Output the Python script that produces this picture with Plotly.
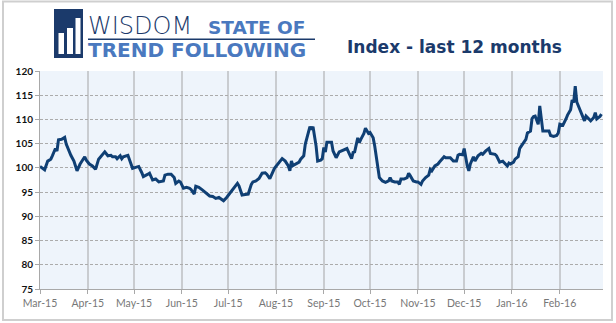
import plotly.graph_objects as go

# ---------------- data ----------------
dates = [
    "2015-03-01", "2015-03-04", "2015-03-06", "2015-03-08", "2015-03-09", "2015-03-11", "2015-03-12", "2015-03-13",
    "2015-03-15", "2015-03-17", "2015-03-18", "2015-03-20", "2015-03-21", "2015-03-23", "2015-03-25", "2015-03-27",
    "2015-03-30", "2015-03-31", "2015-04-02", "2015-04-04", "2015-04-06", "2015-04-08", "2015-04-10", "2015-04-12",
    "2015-04-14", "2015-04-16", "2015-04-17", "2015-04-19", "2015-04-20", "2015-04-22", "2015-04-23", "2015-04-24",
    "2015-04-27", "2015-04-28", "2015-04-30", "2015-05-02", "2015-05-04", "2015-05-06", "2015-05-07", "2015-05-10",
    "2015-05-11", "2015-05-13", "2015-05-15", "2015-05-17", "2015-05-20", "2015-05-21", "2015-05-23", "2015-05-25",
    "2015-05-27", "2015-05-28", "2015-05-30", "2015-05-31", "2015-06-02", "2015-06-04", "2015-06-06", "2015-06-07",
    "2015-06-09", "2015-06-10", "2015-06-12", "2015-06-14", "2015-06-17", "2015-06-19", "2015-06-21", "2015-06-23",
    "2015-06-25", "2015-06-26", "2015-06-28", "2015-06-30", "2015-07-02", "2015-07-04", "2015-07-07", "2015-07-08",
    "2015-07-10", "2015-07-12", "2015-07-14", "2015-07-16", "2015-07-17", "2015-07-19", "2015-07-21", "2015-07-23",
    "2015-07-25", "2015-07-26", "2015-07-28", "2015-07-31", "2015-08-02", "2015-08-04", "2015-08-05", "2015-08-07",
    "2015-08-09", "2015-08-10", "2015-08-11", "2015-08-12", "2015-08-14", "2015-08-16", "2015-08-17", "2015-08-19",
    "2015-08-20", "2015-08-22", "2015-08-23", "2015-08-24", "2015-08-25", "2015-08-27", "2015-08-28", "2015-08-30",
    "2015-08-31", "2015-09-01", "2015-09-02", "2015-09-03", "2015-09-05", "2015-09-06", "2015-09-07", "2015-09-09",
    "2015-09-11", "2015-09-13", "2015-09-15", "2015-09-16", "2015-09-18", "2015-09-19", "2015-09-20", "2015-09-21",
    "2015-09-23", "2015-09-24", "2015-09-25", "2015-09-27", "2015-09-28", "2015-09-30", "2015-10-01", "2015-10-03",
    "2015-10-04", "2015-10-06", "2015-10-07", "2015-10-09", "2015-10-11", "2015-10-13", "2015-10-14", "2015-10-15",
    "2015-10-17", "2015-10-19", "2015-10-20", "2015-10-21", "2015-10-23", "2015-10-25", "2015-10-26", "2015-10-27",
    "2015-10-29", "2015-10-31", "2015-11-01", "2015-11-03", "2015-11-04", "2015-11-06", "2015-11-08", "2015-11-09",
    "2015-11-10", "2015-11-12", "2015-11-14", "2015-11-15", "2015-11-17", "2015-11-18", "2015-11-19", "2015-11-21",
    "2015-11-22", "2015-11-24", "2015-11-26", "2015-11-27", "2015-11-28", "2015-11-30", "2015-12-01", "2015-12-03",
    "2015-12-04", "2015-12-05", "2015-12-07", "2015-12-08", "2015-12-10", "2015-12-12", "2015-12-13", "2015-12-15",
    "2015-12-16", "2015-12-17", "2015-12-18", "2015-12-21", "2015-12-22", "2015-12-24", "2015-12-26", "2015-12-27",
    "2015-12-29", "2015-12-30", "2015-12-31", "2016-01-02", "2016-01-03", "2016-01-05", "2016-01-06", "2016-01-07",
    "2016-01-08", "2016-01-10", "2016-01-11", "2016-01-13", "2016-01-14", "2016-01-15", "2016-01-16", "2016-01-18",
    "2016-01-19", "2016-01-20", "2016-01-21", "2016-01-23", "2016-01-25", "2016-01-26", "2016-01-28", "2016-01-30",
    "2016-01-31", "2016-02-01", "2016-02-03", "2016-02-05", "2016-02-06", "2016-02-08", "2016-02-09", "2016-02-10",
    "2016-02-11", "2016-02-12", "2016-02-13", "2016-02-14", "2016-02-16", "2016-02-17", "2016-02-18", "2016-02-20",
    "2016-02-21", "2016-02-23", "2016-02-24", "2016-02-25", "2016-02-27", "2016-02-28",
]

index_values = [
    100.3, 99.6, 101.4, 101.8, 102.5, 104.0, 103.5, 105.8,
    105.9, 106.3, 104.9, 103.3, 102.6, 101.4, 99.4, 100.8,
    102.3, 101.6, 100.8, 100.4, 99.7, 101.8, 102.6, 103.3,
    102.5, 102.6, 102.3, 102.3, 101.9, 102.5, 101.9, 102.3,
    102.6, 101.8, 99.9, 100.1, 100.3, 99.0, 98.2, 98.7,
    98.9, 97.5, 97.7, 97.1, 97.3, 98.5, 98.7, 98.7,
    98.0, 96.8, 97.3, 97.1, 95.8, 96.0, 95.8, 95.5,
    94.6, 96.2, 96.0, 95.5, 94.8, 94.2, 94.1, 93.7,
    93.9, 93.6, 93.2, 93.9, 94.8, 95.5, 96.8, 96.3,
    94.4, 94.5, 94.6, 96.6, 97.1, 97.3, 97.8, 98.9,
    99.0, 98.7, 97.8, 99.9, 100.8, 101.6, 101.9, 101.4,
    100.4, 99.4, 101.4, 100.5, 100.8, 101.2, 101.8, 102.5,
    104.9, 107.1, 108.5, 107.9, 108.5, 104.5, 101.4, 101.6,
    101.9, 104.2, 103.3, 105.3, 105.3, 105.3, 103.5, 102.1,
    103.3, 103.6, 103.8, 104.0, 102.6, 101.9, 103.2, 103.3,
    106.2, 105.2, 105.9, 107.1, 108.2, 107.1, 107.3, 106.2,
    104.5, 100.1, 98.0, 97.3, 97.0, 97.3, 98.0, 97.3,
    97.1, 97.1, 96.6, 97.7, 97.7, 98.0, 98.9, 98.4,
    97.3, 97.1, 97.1, 96.6, 97.3, 98.0, 98.5, 99.7,
    99.4, 100.4, 100.8, 101.2, 101.9, 102.3, 102.1, 102.1,
    102.1, 101.4, 101.4, 102.6, 102.8, 102.7, 104.0, 100.4,
    99.4, 100.8, 102.3, 101.4, 102.5, 103.0, 102.8, 103.5,
    103.8, 104.0, 103.0, 102.8, 102.5, 101.2, 101.4, 101.0,
    100.4, 101.0, 100.8, 101.2, 101.8, 102.3, 104.0, 104.5,
    104.9, 105.9, 107.2, 107.6, 110.2, 110.6, 110.7, 109.0,
    112.8, 110.7, 107.6, 107.6, 107.6, 106.7, 106.5, 106.7,
    107.2, 109.0, 108.8, 110.1, 110.9, 112.0, 114.0, 113.5,
    116.9, 113.6, 112.8, 111.8, 110.6, 109.7, 110.7, 110.1,
    109.7, 110.4, 111.4, 110.1, 110.6, 111.1,
]

month_ticks = [
    "2015-03-01", "2015-04-01", "2015-05-01", "2015-06-01", "2015-07-01", "2015-08-01",
    "2015-09-01", "2015-10-01", "2015-11-01", "2015-12-01", "2016-01-01", "2016-02-01",
]
month_labels = [
    "Mar-15", "Apr-15", "May-15", "Jun-15", "Jul-15", "Aug-15",
    "Sep-15", "Oct-15", "Nov-15", "Dec-15", "Jan-16", "Feb-16",
]
y_ticks = [75, 80, 85, 90, 95, 100, 105, 110, 115, 120]

# ---------------- layout constants ----------------
W, H = 616, 323
ML, MR, MT, MB = 40, 13, 71, 34
PW, PH = W - ML - MR, H - MT - MB

NAVY = "#1B3A6B"
LINE = "#0F3F74"
BLUE = "#4A79BF"


def px(x):
    return (x - ML) / PW


def py(y):
    return (H - MB - y) / PH


fig = go.Figure()
fig.add_trace(go.Scatter(
    x=dates, y=index_values, mode="lines",
    line=dict(color=LINE, width=3), hoverinfo="x+y", showlegend=False,
))

shapes = []
# outer frame
shapes.append(dict(type="rect", xref="paper", yref="paper",
                   x0=px(3), x1=px(612), y0=py(320), y1=py(1.5),
                   line=dict(color="#CFCFCF", width=2), fillcolor="rgba(0,0,0,0)", layer="above"))
# logo square
shapes.append(dict(type="rect", xref="paper", yref="paper",
                   x0=px(54), x1=px(83), y0=py(58), y1=py(9),
                   line=dict(width=0), fillcolor=NAVY))
# logo white bars
for (bx0, bx1, top) in [(58.5, 64, 33), (67, 73, 28), (75.5, 80.5, 18)]:
    shapes.append(dict(type="rect", xref="paper", yref="paper",
                       x0=px(bx0), x1=px(bx1), y0=py(54), y1=py(top),
                       line=dict(width=0), fillcolor="white"))
# logo underline
shapes.append(dict(type="line", xref="paper", yref="paper",
                   x0=px(88), x1=px(315), y0=py(39.3), y1=py(39.3),
                   line=dict(color=NAVY, width=1.5)))

annotations = [
    dict(text="WISDOM", x=px(86), y=py(25.5), xref="paper", yref="paper",
         xanchor="left", yanchor="middle", showarrow=False,
         font=dict(family="DejaVu Sans", size=24, color=NAVY, weight=200)),
    dict(text="STATE OF", x=px(206), y=py(27.5), xref="paper", yref="paper",
         xanchor="left", yanchor="middle", showarrow=False,
         font=dict(family="DejaVu Sans", size=18.5, color=BLUE, weight="bold")),
    dict(text="TREND FOLLOWING", x=px(86), y=py(50.5), xref="paper", yref="paper",
         xanchor="left", yanchor="middle", showarrow=False,
         font=dict(family="DejaVu Sans", size=20, color=BLUE, weight="bold")),
    dict(text="Index - last 12 months", x=px(345), y=py(47.5), xref="paper", yref="paper",
         xanchor="left", yanchor="middle", showarrow=False,
         font=dict(family="DejaVu Sans", size=17, color=NAVY, weight="bold")),
]

fig.update_layout(
    width=W, height=H,
    margin=dict(l=ML, r=MR, t=MT, b=MB, pad=0),
    paper_bgcolor="white",
    plot_bgcolor="#EEF4FB",
    shapes=shapes,
    annotations=annotations,
    showlegend=False,
    xaxis=dict(
        type="date",
        range=["2015-03-01", "2016-02-29"],
        tickmode="array", tickvals=month_ticks, ticktext=month_labels,
        showgrid=True, gridcolor="#C9CCD0", gridwidth=1.5,
        showline=True, linecolor="#A8A8A8", linewidth=1,
        ticks="outside", ticklen=4, tickcolor="#A8A8A8",
        tickfont=dict(family="Lato", size=10.5, color="#777777"),
        zeroline=False, fixedrange=True,
    ),
    yaxis=dict(
        range=[75, 120],
        tickmode="array", tickvals=y_ticks,
        showgrid=True, gridcolor="#ABABAB", gridwidth=1, griddash="3px,2px",
        showline=True, linecolor="#A8A8A8", linewidth=1,
        ticks="outside", ticklen=4, tickcolor="#A8A8A8",
        tickfont=dict(family="Lato", size=10, color="#111111", weight="bold"),
        zeroline=False, fixedrange=True,
    ),
)

fig.write_html("out.html", config={"displayModeBar": False})
